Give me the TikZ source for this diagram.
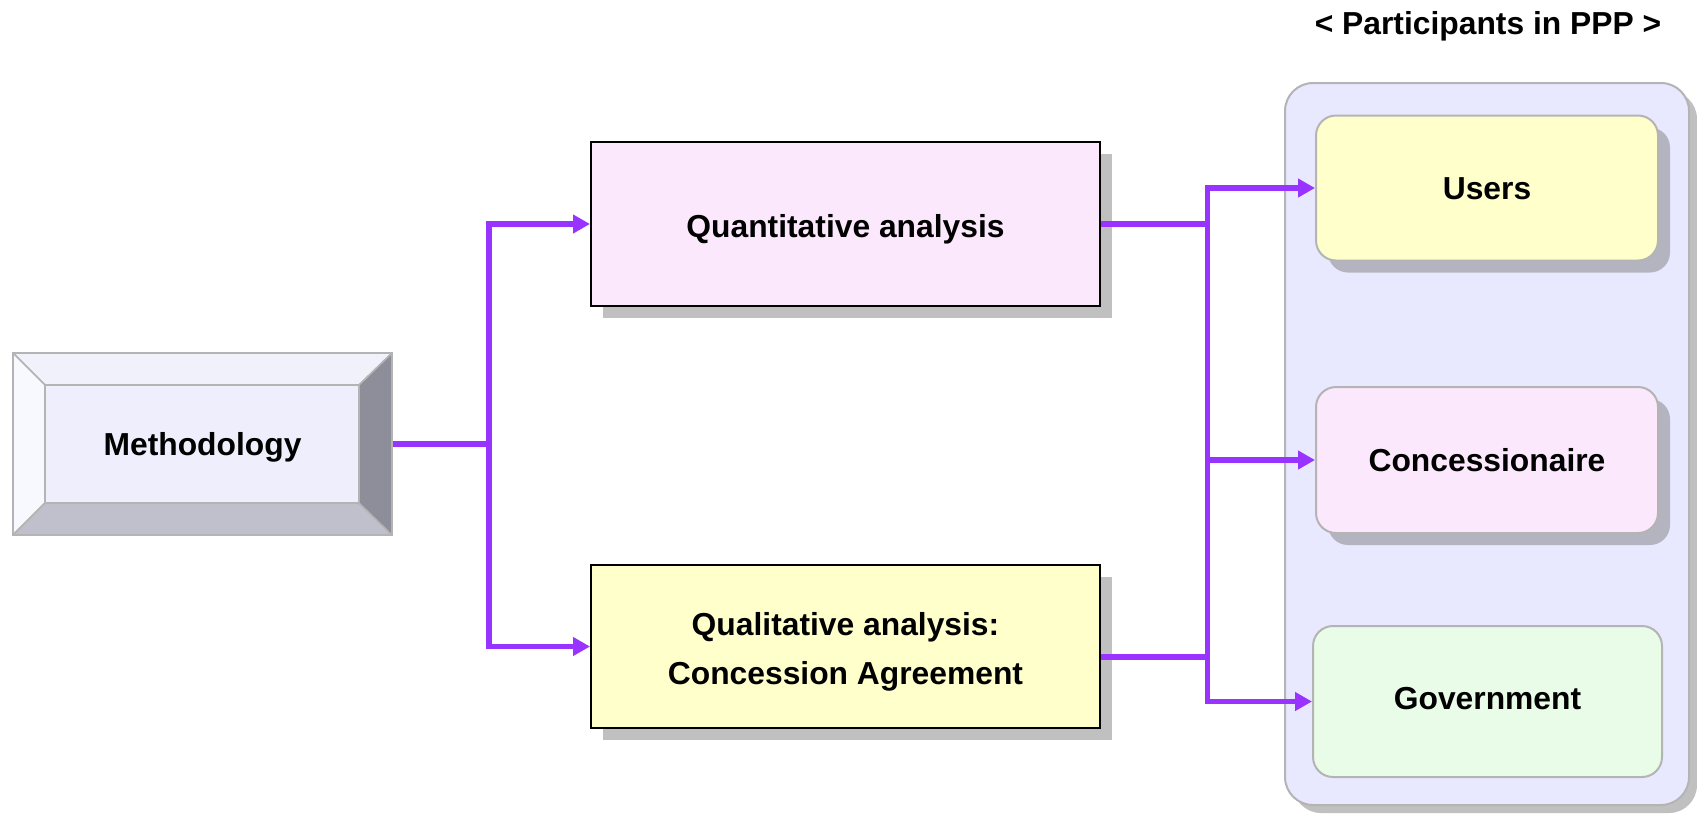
\documentclass[tikz,border=0pt]{standalone}
\usepackage{fontspec}
\setmainfont{Liberation Sans}
\usetikzlibrary{arrows.meta,calc,shadows}

\definecolor{flow}{HTML}{9933FF}
\definecolor{edgegray}{HTML}{B4B4B4}
\definecolor{shade}{HTML}{C0C0C0}
\definecolor{shadeonpanel}{HTML}{B4B4C0}
\definecolor{methface}{HTML}{EEEEFC}
\definecolor{methtop}{HTML}{F1F1FC}
\definecolor{methleft}{HTML}{F8F8FF}
\definecolor{methbottom}{HTML}{C0C0CC}
\definecolor{methright}{HTML}{8E8E9A}
\definecolor{pinkfill}{HTML}{FCE8FC}
\definecolor{yellowfill}{HTML}{FFFFCC}
\definecolor{greenfill}{HTML}{E8FCE8}
\definecolor{panelfill}{HTML}{E8E8FF}

\tikzset{
  lbl/.style={font=\fontsize{31.8}{47}\selectfont\bfseries},
  oneline/.style={lbl, text height=23pt, text depth=0pt},
  flowline/.style={draw=flow, line width=5.5pt},
  flowarrow/.style={flowline, -{Triangle[length=17pt,width=18pt]}},
  bevelbox/.style={oneline, minimum width=379pt, minimum height=182pt,
    inner sep=0pt, draw=edgegray, line width=2pt,
    path picture={
      \path (path picture bounding box.north west) coordinate (bo1)
            (path picture bounding box.north east) coordinate (bo2)
            (path picture bounding box.south east) coordinate (bo3)
            (path picture bounding box.south west) coordinate (bo4)
            ($(bo1)+(32,32)$) coordinate (bi1)
            ($(bo2)+(-33,32)$) coordinate (bi2)
            ($(bo3)+(-33,-32)$) coordinate (bi3)
            ($(bo4)+(32,-32)$) coordinate (bi4);
      \filldraw[fill=methtop, draw=edgegray, line width=1.5pt] (bo1) -- (bo2) -- (bi2) -- (bi1) -- cycle;
      \filldraw[fill=methleft, draw=edgegray, line width=1.5pt] (bo1) -- (bi1) -- (bi4) -- (bo4) -- cycle;
      \filldraw[fill=methbottom, draw=edgegray, line width=1.5pt] (bo4) -- (bi4) -- (bi3) -- (bo3) -- cycle;
      \filldraw[fill=methright, draw=edgegray, line width=1.5pt] (bo2) -- (bo3) -- (bi3) -- (bi2) -- cycle;
      \filldraw[fill=methface, draw=edgegray, line width=1.5pt] (bi1) rectangle (bi3);
    }},
  analysis/.style={minimum width=509pt, minimum height=164pt, inner sep=0pt,
    draw=black, line width=2pt,
    drop shadow={shadow xshift=12pt, shadow yshift=-12pt, fill=shade, opacity=1}},
  panelbox/.style={minimum width=404pt, minimum height=722pt, rounded corners=28pt,
    fill=panelfill, draw=edgegray, line width=2pt,
    drop shadow={shadow xshift=8pt, shadow yshift=-8pt, fill=shade, opacity=1}},
  party/.style={oneline, minimum width=342pt, minimum height=145pt, inner sep=0pt,
    rounded corners=20pt, draw=edgegray, line width=2pt},
  partyshadow/.style={drop shadow={shadow xshift=12pt, shadow yshift=-12pt,
    fill=shadeonpanel, opacity=1}}
}

\begin{document}
\begin{tikzpicture}[x=1pt, y=-1pt]
\useasboundingbox (0,0) rectangle (1697,815);

% title of the participants column
\node (title) [lbl, anchor=base] at (1488,34) {< Participants in PPP >};

% participants panel and its three members
\node (panel) [panelbox] at (1487,444) {};
\node (users) [party, partyshadow, fill=yellowfill] at (1487,188) {Users};
\node (conc) [party, partyshadow, fill=pinkfill, minimum height=146pt] at (1487,460) {Concessionaire};
\node (gov) [party, fill=greenfill, minimum width=349pt, minimum height=151pt,
  text height=16.5pt] at (1487.5,701.5) {Government};

% methodology and the two analyses
\node (meth) [bevelbox] at (202.5,444) {Methodology};
\node (quant) [analysis, oneline, fill=pinkfill, text height=27.5pt] at (845.5,224) {Quantitative analysis};
\node (qual) [analysis, lbl, align=center, fill=yellowfill, minimum height=163pt] at (845.5,646.5)
  {\rule{0pt}{33pt}Qualitative analysis:\\[2pt]Concession Agreement};

% branching from the methodology
\coordinate (jl) at (489,444);
\draw[flowline] (meth.east) -- (jl);
\draw[flowarrow] (jl) |- (quant.west);
\draw[flowarrow] (jl) |- (qual.west);

% collecting both analyses towards the participants
\coordinate (jr) at (1207.5,444);
\coordinate (qualout) at ($(qual.east)+(0,10.5)$);
\draw[flowline] (quant.east) -- (quant.east -| jr);
\draw[flowline] (qualout) -- (qualout -| jr);
\draw[flowarrow] (quant.east -| jr) |- (users.west);
\draw[flowarrow] (quant.east -| jr) |- (gov.west);
\draw[flowarrow] (conc.west -| jr) -- (conc.west);
\end{tikzpicture}
\end{document}
